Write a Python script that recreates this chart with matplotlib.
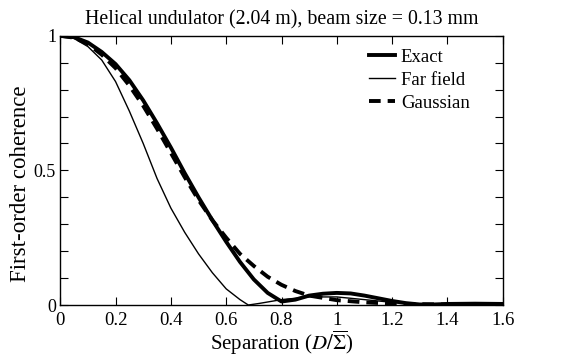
import numpy as np
import matplotlib
matplotlib.use("Agg")
import matplotlib.pyplot as plt
from matplotlib.ticker import FixedLocator

plt.rcParams['font.family'] = ['Liberation Serif', 'DejaVu Serif']
plt.rcParams['mathtext.fontset'] = 'stix'

# Values
x_exact = [0, 0.05, 0.1, 0.15, 0.2, 0.25, 0.3, 0.35, 0.4, 0.45, 0.5, 0.55, 0.6,
           0.65, 0.7, 0.75, 0.8, 0.85, 0.9, 0.95, 1.0, 1.05, 1.1, 1.15, 1.2,
           1.25, 1.3, 1.35, 1.4, 1.5, 1.6]
y_exact = [1.0, 0.995, 0.975, 0.94, 0.895, 0.835, 0.76, 0.675, 0.585, 0.49, 0.4,
           0.315, 0.235, 0.16, 0.095, 0.045, 0.013, 0.02, 0.035, 0.042, 0.045,
           0.043, 0.035, 0.025, 0.015, 0.007, 0.002, 0.002, 0.004, 0.005, 0.004]

x_far = [0, 0.05, 0.1, 0.15, 0.2, 0.25, 0.3, 0.35, 0.4, 0.45, 0.5, 0.55, 0.6,
         0.65, 0.68, 0.72, 0.8, 0.9, 1.0, 1.1, 1.2, 1.3, 1.4, 1.5, 1.6]
y_far = [1.0, 0.99, 0.96, 0.91, 0.83, 0.72, 0.6, 0.47, 0.36, 0.27, 0.19, 0.12,
         0.06, 0.02, 0.0, 0.006, 0.02, 0.03, 0.03, 0.02, 0.01, 0.001, 0.002,
         0.004, 0.004]

x_gauss = [0, 0.05, 0.1, 0.15, 0.2, 0.25, 0.3, 0.35, 0.4, 0.45, 0.5, 0.55, 0.6,
           0.65, 0.7, 0.75, 0.8, 0.85, 0.9, 1.0, 1.1, 1.2, 1.3, 1.4, 1.5, 1.6]
y_gauss = [1.0, 0.993, 0.97, 0.93, 0.88, 0.815, 0.74, 0.655, 0.565, 0.475, 0.39,
           0.315, 0.25, 0.19, 0.145, 0.105, 0.075, 0.052, 0.035, 0.018, 0.01,
           0.005, 0.003, 0.002, 0.001, 0.001]

xticks = [0, 0.2, 0.4, 0.6, 0.8, 1.0, 1.2, 1.4, 1.6]
xtick_labels = ["0", "0.2", "0.4", "0.6", "0.8", "1", "1.2", "1.4", "1.6"]
yticks = [0, 0.5, 1]
ytick_labels = ["0", "0.5", "1"]
yminor = [0.1, 0.2, 0.3, 0.4, 0.6, 0.7, 0.8, 0.9]

fig = plt.figure(figsize=(5.63, 3.58), dpi=100)
ax = fig.add_axes([0.107, 0.148, 0.786, 0.752])

ax.plot(x_exact, y_exact, color="black", linewidth=2.8, label="Exact")
ax.plot(x_far, y_far, color="black", linewidth=1.0, label="Far field")
ax.plot(x_gauss, y_gauss, color="black", linewidth=2.8, linestyle=(0, (3, 1.8)),
        label="Gaussian")

ax.set_xlim(0, 1.6)
ax.set_ylim(0, 1)
ax.set_xticks(xticks)
ax.set_xticklabels(xtick_labels)
ax.set_yticks(yticks)
ax.set_yticklabels(ytick_labels)
ax.yaxis.set_minor_locator(FixedLocator(yminor))
ax.tick_params(which="both", direction="in", top=True, right=True,
               labelsize=13.5, width=0.8, length=6)
ax.tick_params(axis="x", pad=5)
ax.tick_params(axis="y", labelsize=13, pad=3)
for s in ax.spines.values():
    s.set_linewidth(1.0)

ax.set_xlabel(r"Separation ($D/\overline{\Sigma}$)", fontsize=15, labelpad=0)
ax.set_ylabel("First-order coherence", fontsize=16.5)
ax.yaxis.set_label_coords(-0.066, 0.45)
ax.set_title("Helical undulator (2.04 m), beam size = 0.13 mm", fontsize=14.3, pad=8)

ax.legend(loc="upper right", bbox_to_anchor=(0.955, 1.0), frameon=False,
          fontsize=13.5, handlelength=1.4, handletextpad=0.3, labelspacing=0.3,
          borderaxespad=0.3)

fig.savefig("out.png", dpi=100)
